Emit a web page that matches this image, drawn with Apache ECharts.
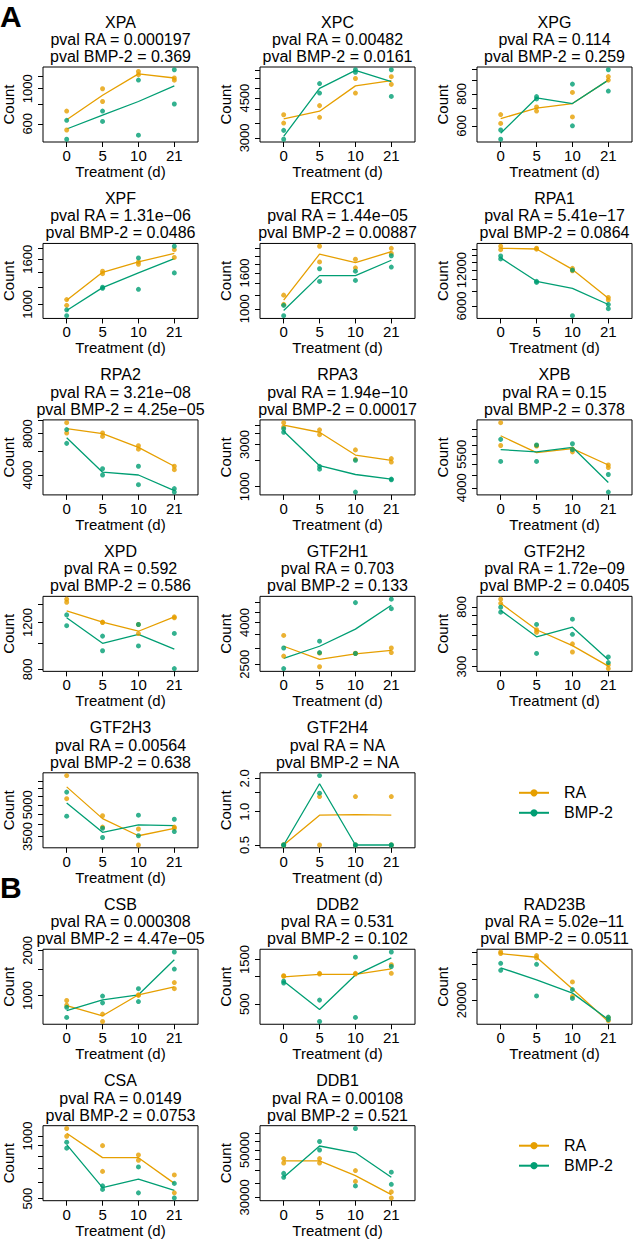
<!DOCTYPE html>
<html>
<head>
<meta charset="utf-8">
<script src="https://cdn.jsdelivr.net/npm/echarts@6/dist/echarts.min.js"></script>
<style>html,body{margin:0;padding:0;background:#fff}#c{width:633px;height:1239px}</style>
</head>
<body>
<div id="c"></div>
<script>
// ---------------- data ----------------
const days = ['0', '5', '10', '21'];
const genes = ['XPA','XPC','XPG','XPF','ERCC1','RPA1','RPA2','RPA3','XPB','XPD','GTF2H1','GTF2H2','GTF2H3','GTF2H4','CSB','DDB2','RAD23B','CSA','DDB1'];
const pvalRA  = ['0.000197','0.00482','0.114','1.31e\u221206','1.44e\u221205','5.41e\u221217','3.21e\u221208','1.94e\u221210','0.15','0.592','0.703','1.72e\u221209','0.00564','NA','0.000308','0.531','5.02e\u221211','0.0149','0.00108'];
const pvalBMP = ['0.369','0.0161','0.259','0.0486','0.00887','0.0864','4.25e\u221205','0.00017','0.378','0.586','0.133','0.0405','0.638','NA','4.47e\u221205','0.102','0.0511','0.0753','0.521'];

// replicate counts per day (0, 5, 10, 21)
const raPoints = [
  [[722,548],[1000,830],[1285,1228],[1169,1133]],
  [[3800,3490],[4170,3700],[5500,4740],[5600,5180]],
  [[664,613],[711,685],[810,650],[934,905]],
  [[1051,990],[1412,1377],[1556,1518],[1767,1630]],
  [[1196,1060],[2270,1848],[1914,1711],[2208,2065]],
  [[19040,17800],[18300,18000],[12400,11830],[7060,6740]],
  [[9620,8090],[8090,7640],[6530,6170],[4630,4370]],
  [[5300,4740],[4400,3880],[2610,2040],[2080,1900]],
  [[7430,5980],[5980,5950],[5780,5630],[4970,4850]],
  [[1469,1430],[1205,1200],[1180,1091],[1260,1250]],
  [[3455,2740],[2830,2430],[2830,2820],[3000,2850]],
  [[908,848],[550,528],[436,382],[309,291]],
  [[6950,5360],[4420,3890],[3810,3180],[3890,3840]],
  [[0.5,0.5],[1.37,0.5],[1.37,0.5],[1.37,0.5]],
  [[925,860],[751,670],[1010,1000],[1219,1110]],
  [[1008,995],[1069,1050],[1069,1050],[1320,1069]],
  [[50400,49000],[47100,45000],[28400,21500],[14300,13500]],
  [[1087,997],[899,676],[811,765],[650,533]],
  [[45500,43400],[45500,43400],[40000,35600],[31800,29800]]
];
const raMean = [
  [637,910,1241,1169],[3640,3940,5100,5380],[640,703,733,905],[1044,1397,1556,1700],
  [1119,2046,1832,2113],[18300,18050,12160,6970],[8720,8000,6350,4630],[4970,4130,2280,1990],
  [6560,5590,5810,4970],[1327,1205,1113,1260],[3060,2640,2810,2920],[848,550,424,303],
  [6120,4280,3530,3840],[0.5,0.93,0.94,0.93],[855,731,1010,1139],[982,1042,1042,1194],
  [48800,45600,24800,13300],[1031,787,787,592],[44400,44400,37900,30900]
];
const bmpPoints = [
  [[631,479],[722,621],[1134,508],[1318,800]],
  [[3240,2960],[5220,4740],[6010,5860],[6010,4580]],
  [[578,532],[780,764],[873,600],[993,820]],
  [[945,889],[1195,1182],[1622,1170],[1832,1388]],
  [[1046,914],[1690,1431],[1637,1450],[2004,1727]],
  [[15750,14900],[9660,9450],[12000,4970],[6170,5690]],
  [[8570,6800],[4440,4000],[4630,3400],[3180,3000]],
  [[4530,4130],[1700,1580],[1990,869],[1220,1200]],
  [[6340,5140],[6010,5140],[6080,5750],[4540,3840]],
  [[1282,1168],[1067,940],[1180,980],[1092,806]],
  [[3000,2380],[3240,2850],[5000,2820],[5200,4670]],
  [[795,733],[600,373],[654,510],[352,321]],
  [[5770,4400],[3840,3460],[4450,3530],[4250,3700]],
  [[0.5,0.5],[2.12,1.47],[0.5,0.5],[0.5,0.5]],
  [[833,713],[990,892],[1110,910],[1950,1500]],
  [[880,843],[553,327],[1590,361],[1806,1265]],
  [[40600,35500],[39800,21700],[24500,20700],[14450,13800]],
  [[934,874],[576,554],[710,533],[592,504]],
  [[38800,37200],[54700,49900],[62900,33900],[39300,34500]]
];
const bmpMean = [
  [556,680,830,1041],[3050,4970,5970,5330],[561,771,733,905],[938,1190,1388,1611],
  [978,1544,1544,1889],[15200,9660,8440,6170],[7460,4190,4000,3080],[4250,1730,1375,1220],
  [5750,5630,5880,4210],[1250,1003,1083,953],[2670,3060,3710,4850],[755,490,573,336],
  [5100,3670,3990,3960],[0.5,1.79,0.5,0.5],[791,935,1010,1730],[880,440,1024,1565],
  [37200,29600,22900,13800],[909,565,621,548],[37200,52100,48400,37200]
];
// y-axis tick marks and the tick labels that are printed
const yTicks = [
  [600,800,1000,1200],[3000,3500,4000,4500,5000,5500,6000],[600,700,800,900,1000],
  [1000,1200,1400,1600,1800],[1000,1200,1400,1600,1800,2000,2200],[6000,8000,10000,12000,14000,16000,18000],
  [4000,6000,8000,10000],[1000,2000,3000,4000,5000],[4000,4500,5000,5500,6000,6500,7000],
  [800,1000,1200,1400],[2500,3000,3500,4000,4500,5000],[300,400,500,600,700,800],
  [3500,4000,4500,5000,5500,6000,6500],[0.5,1.0,1.5,2.0],[1000,1500,2000],
  [500,1000,1500],[20000,30000,40000,50000],[500,600,700,800,900,1000],[30000,35000,40000,45000,50000,55000,60000]
];
const yLabels = [
  ['600','1000'],['3000','4500'],['600','800'],['1000','1600'],['1000','1600'],['6000','12000'],
  ['4000','8000'],['1000','3000'],['4000','5500'],['800','1200'],['2500','4000'],['300','800'],
  ['3500','5000'],['0.5','1.0','2.0'],['1000','2000'],['500','1500'],['20000'],['500','1000'],['30000','50000']
];
const groupNames = ['RA', 'BMP-2'];
const groupColors = ['#E69F00', '#009E73'];

// ---------------- layout ----------------
const FONT = 'Liberation Sans, Arial, Helvetica, sans-serif';
const colLeft = [43, 260, 477];
const boxW = 155, boxH = 75, rowPitch = 176.45;
const rowTop = r => r * rowPitch;
function slot(i) {
  if (i < 14) return [Math.floor(i / 3), i % 3];
  const j = i - 14; return [5 + Math.floor(j / 3), j % 3];
}
const L = Math.log10;

const grids = [], xAxes = [], yAxes = [], series = [], titles = [];
genes.forEach((g, i) => {
  const [r, c] = slot(i);
  const top = rowTop(r) + 67, left = colLeft[c];
  grids.push({ left: left, top: top, width: boxW, height: boxH, show: true, borderColor: '#000', borderWidth: 1, containLabel: false });
  // y range: data range in log space, padded 4% each side
  const all = [].concat(...raPoints[i], ...bmpPoints[i], raMean[i], bmpMean[i]).map(L);
  let lo = Math.min(...all), hi = Math.max(...all);
  const pad = (hi - lo) * 0.04; lo -= pad; hi += pad;
  const labs = yLabels[i];
  xAxes.push({
    type: 'value', gridIndex: i, min: 0.34, max: 4.66,
    axisLine: { show: false, onZero: false }, splitLine: { show: false },
    axisTick: { show: true, length: 5, customValues: [1, 2, 3, 4], lineStyle: { color: '#000', width: 1 } },
    axisLabel: { customValues: [1, 2, 3, 4], formatter: v => days[Math.round(v) - 1], fontSize: 15, color: '#000', margin: 6, fontFamily: FONT, hideOverlap: false },
    name: 'Treatment (d)', nameLocation: 'middle', nameGap: 22,
    nameTextStyle: { fontSize: 15, color: '#000', fontFamily: FONT }
  });
  yAxes.push({
    type: 'value', gridIndex: i, min: lo, max: hi,
    axisLine: { show: false, onZero: false }, splitLine: { show: false },
    axisTick: { show: true, length: 5, customValues: yTicks[i].map(L), lineStyle: { color: '#000', width: 1 } },
    axisLabel: {
      customValues: labs.map(s => L(parseFloat(s))), rotate: 90, fontSize: 13, color: '#000', margin: 9, fontFamily: FONT, hideOverlap: false,
      showMinLabel: true, showMaxLabel: true,
      formatter: v => { let best = labs[0], d = 1e9; labs.forEach(s => { const e = Math.abs(L(parseFloat(s)) - v); if (e < d) { d = e; best = s; } }); return best; }
    },
    name: 'Count', nameLocation: 'middle', nameGap: 27, nameRotate: 90,
    nameTextStyle: { fontSize: 15, color: '#000', fontFamily: FONT }
  });
  [raMean[i], bmpMean[i]].forEach((m, k) => {
    series.push({
      type: 'line', name: groupNames[k], xAxisIndex: i, yAxisIndex: i,
      data: m.map((v, t) => [t + 1, L(v)]), symbol: 'circle', symbolSize: 7, showSymbol: false,
      lineStyle: { color: groupColors[k], width: 1.3 }, itemStyle: { color: groupColors[k] },
      silent: true, animation: false, z: 2
    });
  });
  [raPoints[i], bmpPoints[i]].forEach((p, k) => {
    const d = [];
    p.forEach((vals, t) => vals.forEach(v => d.push([t + 1, L(v)])));
    series.push({
      type: 'scatter', name: groupNames[k], xAxisIndex: i, yAxisIndex: i, data: d,
      symbol: 'circle', symbolSize: 5, itemStyle: { color: groupColors[k] }, silent: true, animation: false, z: 3
    });
  });
  titles.push({
    text: g, subtext: 'pval RA = ' + pvalRA[i] + '\npval BMP-2 = ' + pvalBMP[i],
    left: left + boxW / 2, top: rowTop(r) + 13, textAlign: 'center', padding: 0, itemGap: 0,
    textStyle: { fontSize: 16, fontWeight: 'normal', color: '#000', lineHeight: 18, fontFamily: FONT },
    subtextStyle: { fontSize: 16, color: '#000', lineHeight: 17, fontFamily: FONT }
  });
});
titles.push({ text: 'A', left: 0, top: 1, padding: 0, textStyle: { fontSize: 30, fontWeight: 'bold', color: '#000', lineHeight: 30, fontFamily: FONT } });
titles.push({ text: 'B', left: 0, top: rowTop(5) - 10, padding: 0, textStyle: { fontSize: 30, fontWeight: 'bold', color: '#000', lineHeight: 30, fontFamily: FONT } });

const legendBase = {
  data: groupNames, orient: 'vertical', left: 513, itemWidth: 30, itemHeight: 9, itemGap: 4, selectedMode: false,
  textStyle: { fontSize: 16, color: '#000', fontFamily: FONT, padding: [0, 0, 0, 10] }
};
const legends = [
  Object.assign({}, legendBase, { top: rowTop(4) + 74 }),
  Object.assign({}, legendBase, { top: rowTop(6) + 74 })
];

const chart = echarts.init(document.getElementById('c'), null, { renderer: 'svg', width: 633, height: 1239 });
chart.setOption({
  animation: false, backgroundColor: '#fff',
  title: titles, legend: legends, grid: grids, xAxis: xAxes, yAxis: yAxes, series: series
});
</script>
</body>
</html>
